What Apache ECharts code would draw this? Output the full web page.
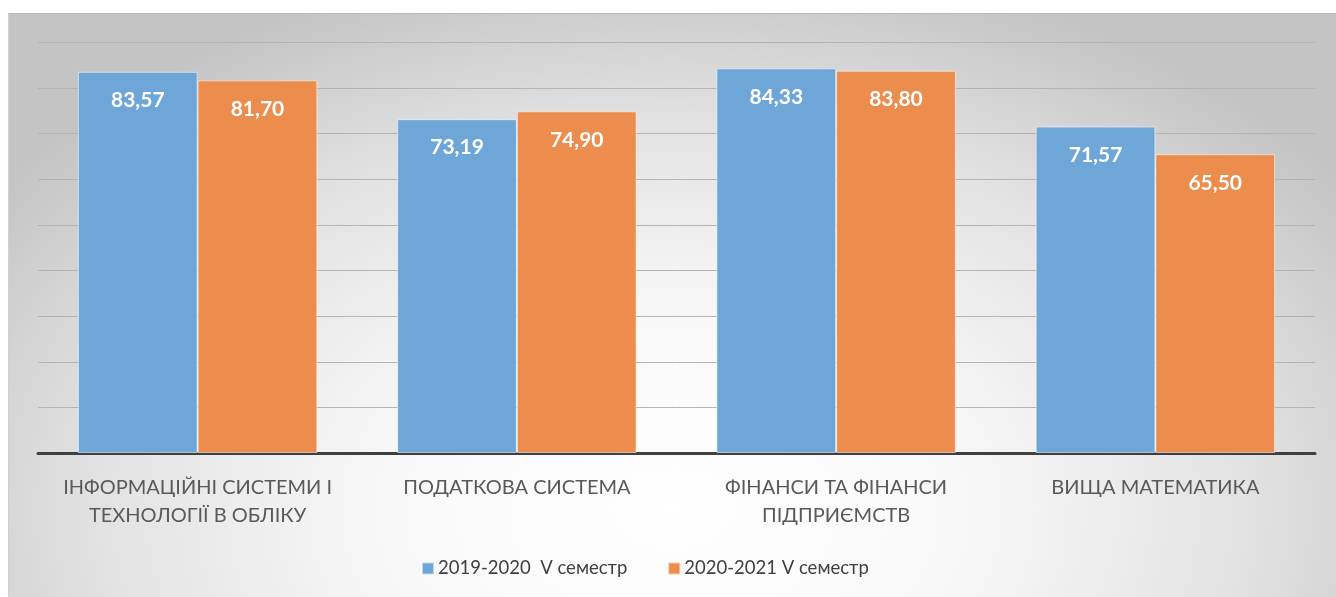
<!DOCTYPE html>
<html>
<head>
<meta charset="utf-8">
<script src="https://cdn.jsdelivr.net/npm/echarts@6/dist/echarts.min.js"></script>
<style>
  html, body { margin: 0; padding: 0; background: #ffffff; }
  #wrap { position: relative; width: 1336px; height: 597px; }
  #bg {
    position: absolute; left: 8px; top: 13px; width: 1328px; height: 584px;
    border-top: 1px solid #b8b8b8; border-left: 1px solid #d0d0d0;
    box-sizing: border-box;
    background: radial-gradient(ellipse 62% 95% at 50% 85%, #ffffff 0%, #f8f8f8 35%, #e2e2e2 70%, #c4c4c4 100%);
  }
  #chart { position: absolute; left: 0; top: 0; width: 1336px; height: 597px; }
</style>
</head>
<body>
<div id="wrap">
  <div id="bg"></div>
  <div id="chart"></div>
</div>
<script>
  const categories = [
    'ІНФОРМАЦІЙНІ СИСТЕМИ І\nТЕХНОЛОГІЇ В ОБЛІКУ',
    'ПОДАТКОВА СИСТЕМА',
    'ФІНАНСИ ТА ФІНАНСИ\nПІДПРИЄМСТВ',
    'ВИЩА МАТЕМАТИКА'
  ]
  const series2019 = [83.57, 73.19, 84.33, 71.57]
  const series2020 = [81.70, 74.90, 83.80, 65.50]
  const seriesNames = ['2019-2020  V семестр', '2020-2021 V семестр']

  const font = 'Lato, "Noto Sans", sans-serif'

  const chart = echarts.init(document.getElementById('chart'), null, { renderer: 'canvas' })

  // white value labels inside the top of each bar, comma decimals
  const barLabel = {
    show: true,
    position: 'insideTop',
    distance: 18,
    color: '#ffffff',
    fontFamily: font,
    fontWeight: 'bold',
    fontSize: 21,
    formatter: p => p.value.toFixed(2).replace('.', ',')
  }

  const option = {
    backgroundColor: 'transparent',
    animation: false,
    textStyle: { fontFamily: font },
    legend: {
      data: seriesNames,
      bottom: 14,
      left: 416,
      itemWidth: 12,
      itemHeight: 12,
      itemGap: 40,
      icon: 'rect',
      textStyle: { color: '#404040', fontSize: 18.5, fontFamily: font, padding: [0, 0, 0, -1] }
    },
    grid: {
      top: 42.5,
      bottom: 144,
      left: 38,
      right: 21,
      containLabel: false
    },
    xAxis: {
      type: 'category',
      data: categories,
      axisTick: { show: false },
      axisLine: { lineStyle: { color: '#404040', width: 3 } },
      axisLabel: {
        color: '#595959',
        fontSize: 20,
        fontFamily: font,
        margin: 21,
        lineHeight: 28,
        interval: 0
      }
    },
    yAxis: {
      type: 'value',
      min: 0,
      max: 90,
      interval: 10,
      axisLabel: { show: false },
      axisLine: { show: false },
      axisTick: { show: false },
      splitLine: { lineStyle: { color: '#b4b4b4', width: 1 } }
    },
    series: [
      {
        name: seriesNames[0],
        type: 'bar',
        data: series2019,
        barGap: '0%',
        barCategoryGap: '25%',
        itemStyle: { color: '#6FA6D8', borderColor: 'rgba(255,255,255,0.55)', borderWidth: 1 },
        label: barLabel
      },
      {
        name: seriesNames[1],
        type: 'bar',
        data: series2020,
        itemStyle: { color: '#EC8C4D', borderColor: 'rgba(255,255,255,0.55)', borderWidth: 1 },
        label: barLabel
      }
    ]
  }

  chart.setOption(option)
</script>
</body>
</html>
